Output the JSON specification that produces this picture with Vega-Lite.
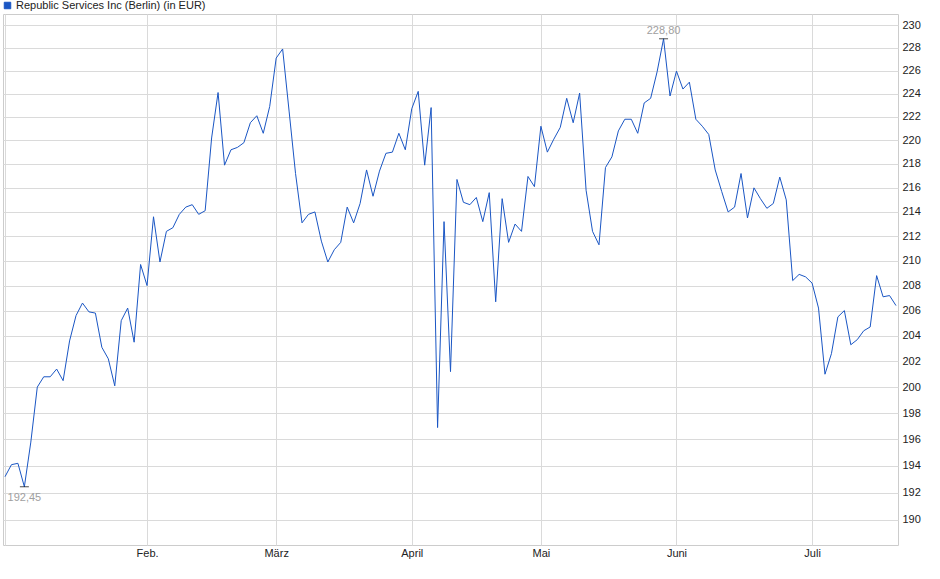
{
  "$schema": "https://vega.github.io/schema/vega-lite/v6.json",
  "width": 895,
  "height": 531,
  "autosize": {"type": "none"},
  "padding": {"left": 3, "top": 14, "right": 42, "bottom": 34},
  "datasets": {
    "prices": [
      {"date": "2025-01-02", "close": 193.2},
      {"date": "2025-01-03", "close": 194.1},
      {"date": "2025-01-06", "close": 194.2},
      {"date": "2025-01-07", "close": 192.45},
      {"date": "2025-01-08", "close": 195.8},
      {"date": "2025-01-09", "close": 200.0},
      {"date": "2025-01-10", "close": 200.8},
      {"date": "2025-01-13", "close": 200.8},
      {"date": "2025-01-14", "close": 201.4},
      {"date": "2025-01-15", "close": 200.5},
      {"date": "2025-01-16", "close": 203.6},
      {"date": "2025-01-17", "close": 205.6},
      {"date": "2025-01-20", "close": 206.6},
      {"date": "2025-01-21", "close": 205.9},
      {"date": "2025-01-22", "close": 205.8},
      {"date": "2025-01-23", "close": 203.1},
      {"date": "2025-01-24", "close": 202.2},
      {"date": "2025-01-27", "close": 200.1},
      {"date": "2025-01-28", "close": 205.2},
      {"date": "2025-01-29", "close": 206.2},
      {"date": "2025-01-30", "close": 203.5},
      {"date": "2025-01-31", "close": 209.7},
      {"date": "2025-02-03", "close": 208.0},
      {"date": "2025-02-04", "close": 213.6},
      {"date": "2025-02-05", "close": 209.9},
      {"date": "2025-02-06", "close": 212.4},
      {"date": "2025-02-07", "close": 212.7},
      {"date": "2025-02-10", "close": 213.8},
      {"date": "2025-02-11", "close": 214.4},
      {"date": "2025-02-12", "close": 214.6},
      {"date": "2025-02-13", "close": 213.8},
      {"date": "2025-02-14", "close": 214.1},
      {"date": "2025-02-17", "close": 220.2},
      {"date": "2025-02-18", "close": 224.1},
      {"date": "2025-02-19", "close": 217.9},
      {"date": "2025-02-20", "close": 219.2},
      {"date": "2025-02-21", "close": 219.4},
      {"date": "2025-02-24", "close": 219.8},
      {"date": "2025-02-25", "close": 221.5},
      {"date": "2025-02-26", "close": 222.1},
      {"date": "2025-02-27", "close": 220.6},
      {"date": "2025-02-28", "close": 222.9},
      {"date": "2025-03-03", "close": 227.1},
      {"date": "2025-03-04", "close": 227.9},
      {"date": "2025-03-05", "close": 222.5},
      {"date": "2025-03-06", "close": 217.2},
      {"date": "2025-03-07", "close": 213.1},
      {"date": "2025-03-10", "close": 213.8},
      {"date": "2025-03-11", "close": 214.0},
      {"date": "2025-03-12", "close": 211.6},
      {"date": "2025-03-13", "close": 209.9},
      {"date": "2025-03-14", "close": 210.9},
      {"date": "2025-03-17", "close": 211.5},
      {"date": "2025-03-18", "close": 214.4},
      {"date": "2025-03-19", "close": 213.1},
      {"date": "2025-03-20", "close": 214.7},
      {"date": "2025-03-21", "close": 217.5},
      {"date": "2025-03-24", "close": 215.3},
      {"date": "2025-03-25", "close": 217.4},
      {"date": "2025-03-26", "close": 218.9},
      {"date": "2025-03-27", "close": 219.0},
      {"date": "2025-03-28", "close": 220.6},
      {"date": "2025-03-31", "close": 219.2},
      {"date": "2025-04-01", "close": 222.7},
      {"date": "2025-04-02", "close": 224.2},
      {"date": "2025-04-03", "close": 217.9},
      {"date": "2025-04-04", "close": 222.8},
      {"date": "2025-04-07", "close": 196.9},
      {"date": "2025-04-08", "close": 213.2},
      {"date": "2025-04-09", "close": 201.2},
      {"date": "2025-04-10", "close": 216.7},
      {"date": "2025-04-11", "close": 214.8},
      {"date": "2025-04-14", "close": 214.6},
      {"date": "2025-04-15", "close": 215.2},
      {"date": "2025-04-16", "close": 213.2},
      {"date": "2025-04-17", "close": 215.6},
      {"date": "2025-04-22", "close": 206.7},
      {"date": "2025-04-23", "close": 215.1},
      {"date": "2025-04-24", "close": 211.5},
      {"date": "2025-04-25", "close": 213.0},
      {"date": "2025-04-28", "close": 212.4},
      {"date": "2025-04-29", "close": 216.95},
      {"date": "2025-04-30", "close": 216.1},
      {"date": "2025-05-02", "close": 221.2},
      {"date": "2025-05-05", "close": 219.0},
      {"date": "2025-05-06", "close": 220.1},
      {"date": "2025-05-07", "close": 221.1},
      {"date": "2025-05-08", "close": 223.6},
      {"date": "2025-05-09", "close": 221.5},
      {"date": "2025-05-12", "close": 224.05},
      {"date": "2025-05-13", "close": 215.8},
      {"date": "2025-05-14", "close": 212.4},
      {"date": "2025-05-15", "close": 211.3},
      {"date": "2025-05-16", "close": 217.7},
      {"date": "2025-05-19", "close": 218.6},
      {"date": "2025-05-20", "close": 220.8},
      {"date": "2025-05-21", "close": 221.8},
      {"date": "2025-05-22", "close": 221.8},
      {"date": "2025-05-23", "close": 220.6},
      {"date": "2025-05-26", "close": 223.2},
      {"date": "2025-05-27", "close": 223.6},
      {"date": "2025-05-28", "close": 225.9},
      {"date": "2025-05-29", "close": 228.8},
      {"date": "2025-05-30", "close": 223.8},
      {"date": "2025-06-02", "close": 225.96},
      {"date": "2025-06-03", "close": 224.4},
      {"date": "2025-06-04", "close": 225.0},
      {"date": "2025-06-05", "close": 221.8},
      {"date": "2025-06-06", "close": 221.2},
      {"date": "2025-06-09", "close": 220.5},
      {"date": "2025-06-10", "close": 217.5},
      {"date": "2025-06-11", "close": 215.7},
      {"date": "2025-06-12", "close": 214.0},
      {"date": "2025-06-13", "close": 214.4},
      {"date": "2025-06-16", "close": 217.2},
      {"date": "2025-06-17", "close": 213.5},
      {"date": "2025-06-18", "close": 216.0},
      {"date": "2025-06-19", "close": 215.1},
      {"date": "2025-06-20", "close": 214.3},
      {"date": "2025-06-23", "close": 214.7},
      {"date": "2025-06-24", "close": 216.9},
      {"date": "2025-06-25", "close": 215.0},
      {"date": "2025-06-26", "close": 208.4},
      {"date": "2025-06-27", "close": 208.9},
      {"date": "2025-06-30", "close": 208.7},
      {"date": "2025-07-01", "close": 208.2},
      {"date": "2025-07-02", "close": 206.2},
      {"date": "2025-07-03", "close": 201.0},
      {"date": "2025-07-04", "close": 202.6},
      {"date": "2025-07-07", "close": 205.5},
      {"date": "2025-07-08", "close": 206.0},
      {"date": "2025-07-09", "close": 203.3},
      {"date": "2025-07-10", "close": 203.7},
      {"date": "2025-07-11", "close": 204.4},
      {"date": "2025-07-14", "close": 204.7},
      {"date": "2025-07-15", "close": 208.8},
      {"date": "2025-07-16", "close": 207.1},
      {"date": "2025-07-17", "close": 207.2},
      {"date": "2025-07-18", "close": 206.4}
    ],
    "extremes": [
      {"date": "2025-01-07", "close": 192.45, "label": "192,45", "kind": "min"},
      {"date": "2025-05-29", "close": 228.8, "label": "228,80", "kind": "max"}
    ]
  },
  "encoding": {
    "x": {
      "field": "date",
      "type": "ordinal",
      "scale": {"type": "point", "padding": 0.31},
      "axis": {
        "title": null,
        "values": ["2025-01-02", "2025-02-03", "2025-03-03", "2025-04-01", "2025-05-02", "2025-06-02", "2025-07-01"],
        "labelExpr": "slice(datum.value, 5, 7) == '02' ? 'Feb.' : slice(datum.value, 5, 7) == '03' ? 'März' : slice(datum.value, 5, 7) == '04' ? 'April' : slice(datum.value, 5, 7) == '05' ? 'Mai' : slice(datum.value, 5, 7) == '06' ? 'Juni' : slice(datum.value, 5, 7) == '07' ? 'Juli' : ''",
        "labelAngle": 0,
        "labelPadding": 2,
        "ticks": false,
        "domain": false,
        "grid": true
      }
    },
    "y": {
      "field": "close",
      "type": "quantitative",
      "scale": {"type": "log", "domain": [188.17, 231], "nice": false, "zero": false},
      "axis": {
        "title": null,
        "orient": "right",
        "values": [190, 192, 194, 196, 198, 200, 202, 204, 206, 208, 210, 212, 214, 216, 218, 220, 222, 224, 226, 228, 230],
        "format": "d",
        "labelPadding": 4,
        "ticks": false,
        "domain": false,
        "grid": true
      }
    }
  },
  "layer": [
    {
      "data": {"name": "prices"},
      "mark": {"type": "line", "strokeWidth": 1, "color": "#1a56c4"},
      "encoding": {
        "color": {
          "datum": "Republic Services Inc (Berlin) (in EUR)",
          "scale": {"range": ["#1a56c4"]},
          "legend": {
            "orient": "none",
            "legendX": -1,
            "legendY": -14,
            "title": null,
            "padding": 0,
            "symbolType": "square",
            "symbolSize": 42,
            "symbolFillColor": "#1a56c4",
            "symbolStrokeColor": "#143e8c",
            "symbolStrokeWidth": 1,
            "labelOffset": 3,
            "labelLimit": 0,
            "labelFontSize": 11,
            "labelColor": "#222222"
          }
        }
      }
    },
    {
      "data": {"name": "extremes"},
      "mark": {"type": "tick", "color": "#000000", "size": 9, "thickness": 1}
    },
    {
      "data": {"name": "extremes"},
      "transform": [{"filter": "datum.kind == 'max'"}],
      "mark": {"type": "text", "dy": -8, "color": "#a0a0a0", "fontSize": 11},
      "encoding": {"text": {"field": "label"}}
    },
    {
      "data": {"name": "extremes"},
      "transform": [{"filter": "datum.kind == 'min'"}],
      "mark": {"type": "text", "dy": 11, "color": "#a0a0a0", "fontSize": 11},
      "encoding": {"text": {"field": "label"}}
    }
  ],
  "config": {
    "font": "Liberation Sans",
    "background": "#ffffff",
    "view": {"stroke": "#cccccc"},
    "axis": {"gridColor": "#dadada", "labelFontSize": 11, "labelColor": "#222222", "labelFont": "Liberation Sans"}
  }
}
